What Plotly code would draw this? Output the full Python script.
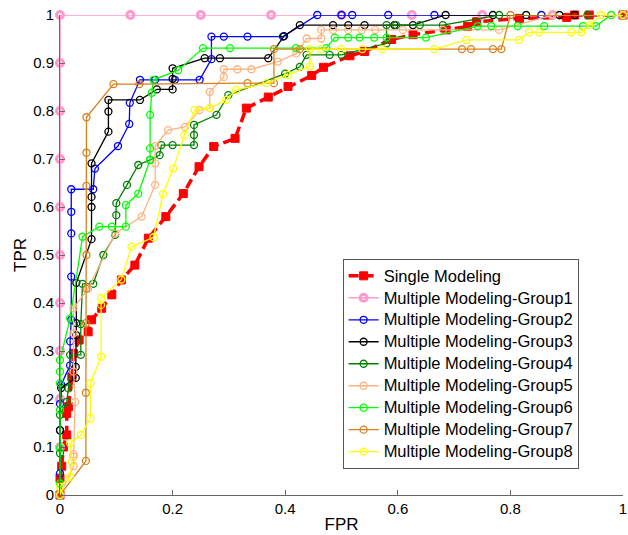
import plotly.graph_objects as go

# ---------------- data ----------------
single_fpr = [0, 0, 0.003, 0.006, 0.012, 0.012, 0.015, 0.021, 0.024, 0.034, 0.05, 0.056, 0.074, 0.092,
              0.109, 0.133, 0.157, 0.188, 0.219, 0.247, 0.273, 0.311, 0.331, 0.37, 0.405, 0.447, 0.468,
              0.515, 0.541, 0.589, 0.627, 0.686, 0.724, 0.74, 0.816, 0.9, 0.914, 0.94, 1]
single_tpr = [0, 0.035, 0.06, 0.10, 0.125, 0.17, 0.184, 0.246, 0.295, 0.323, 0.34, 0.365, 0.389, 0.417,
              0.448, 0.479, 0.535, 0.58, 0.628, 0.684, 0.726, 0.743, 0.806, 0.829, 0.851, 0.874, 0.891,
              0.915, 0.924, 0.949, 0.959, 0.969, 0.976, 0.986, 0.993, 0.995, 1, 1, 1]

g1_fpr = [0, 0, 0, 0, 0, 0, 0, 0, 0, 0, 0, 0.125, 0.25, 0.375, 0.5, 0.625, 0.75, 0.875, 1]
g1_tpr = [0, 0.1, 0.2, 0.3, 0.4, 0.5, 0.6, 0.7, 0.8, 0.9, 1, 1, 1, 1, 1, 1, 1, 1, 1]

g2_fpr = [0, 0, 0, 0, 0.002, 0.018, 0.018, 0.02, 0.02, 0.02, 0.02, 0.02, 0.059, 0.062, 0.103, 0.123,
          0.124, 0.142, 0.169, 0.204, 0.248, 0.269, 0.269, 0.291, 0.333, 0.396, 0.457, 0.5, 0.519,
          0.583, 0.665, 0.855, 1]
g2_tpr = [0, 0.045, 0.135, 0.19, 0.23, 0.27, 0.32, 0.365, 0.455, 0.545, 0.59, 0.637, 0.637, 0.68, 0.727,
          0.773, 0.817, 0.865, 0.865, 0.865, 0.865, 0.908, 0.955, 0.955, 0.955, 0.955, 1, 1, 1, 1, 1, 1, 1]

g3_fpr = [0, 0, 0.002, 0.028, 0.028, 0.029, 0.029, 0.029, 0.056, 0.056, 0.056, 0.056, 0.086, 0.086,
          0.086, 0.142, 0.172, 0.2, 0.2, 0.2, 0.257, 0.284, 0.37, 0.398, 0.426, 0.485, 0.512, 0.541,
          0.594, 0.627, 0.685, 0.769, 0.828, 0.887, 0.914, 1]
g3_tpr = [0, 0.135, 0.223, 0.244, 0.267, 0.333, 0.358, 0.442, 0.533, 0.6, 0.621, 0.691, 0.757, 0.799,
          0.823, 0.823, 0.845, 0.845, 0.867, 0.889, 0.91, 0.91, 0.91, 0.956, 0.979, 0.979, 0.979, 0.979,
          0.979, 0.979, 1, 1, 1, 1, 1, 1]

g4_fpr = [0, 0, 0, 0.012, 0.015, 0.018, 0.037, 0.037, 0.04, 0.059, 0.077, 0.098, 0.1, 0.1, 0.119,
          0.139, 0.16, 0.177, 0.18, 0.2, 0.238, 0.238, 0.238, 0.278, 0.299, 0.4, 0.426, 0.438, 0.479,
          0.5, 0.58, 0.58, 0.597, 0.639, 0.68, 0.78, 0.937, 1]
g4_tpr = [0, 0.087, 0.167, 0.194, 0.222, 0.292, 0.292, 0.356, 0.44, 0.44, 0.5, 0.542, 0.583, 0.608,
          0.646, 0.6875, 0.698, 0.708, 0.729, 0.729, 0.729, 0.75, 0.771, 0.792, 0.833, 0.878, 0.892,
          0.917, 0.917, 0.917, 0.941, 0.979, 0.979, 0.979, 0.979, 1, 1, 1]

g5_fpr = [0, 0.024, 0.024, 0.024, 0.027, 0.024, 0.024, 0.024, 0.05, 0.098, 0.145, 0.169, 0.169, 0.169,
          0.192, 0.222, 0.248, 0.266, 0.266, 0.291, 0.291, 0.315, 0.34, 0.387, 0.42, 0.438, 0.464, 0.464,
          0.485, 0.512, 0.536, 0.56, 0.609, 0.68, 0.78, 0.875, 1]
g5_tpr = [0, 0.06, 0.08, 0.085, 0.194, 0.257, 0.337, 0.389, 0.43, 0.545, 0.58, 0.646, 0.691, 0.727,
          0.76, 0.767, 0.802, 0.806, 0.84, 0.871, 0.887, 0.887, 0.887, 0.903, 0.92, 0.951, 0.951, 0.969,
          0.969, 0.969, 0.969, 0.969, 0.969, 0.969, 0.969, 1, 1]

g6_fpr = [0, 0, 0, 0, 0, 0, 0, 0.018, 0.04, 0.07, 0.092, 0.117, 0.117, 0.139, 0.16, 0.16, 0.16, 0.163,
          0.166, 0.21, 0.254, 0.302, 0.419, 0.473, 0.488, 0.512, 0.532, 0.558, 0.58, 0.65, 0.742, 0.766,
          0.813, 0.86, 0.929, 0.952, 0.979, 1]
g6_tpr = [0, 0.024, 0.097, 0.177, 0.233, 0.257, 0.281, 0.368, 0.538, 0.559, 0.559, 0.559, 0.604, 0.628,
          0.698, 0.722, 0.792, 0.838, 0.865, 0.885, 0.931, 0.931, 0.931, 0.931, 0.953, 0.953, 0.953,
          0.953, 0.953, 0.953, 0.977, 0.977, 0.977, 0.977, 0.977, 0.977, 1, 1]

g7_fpr = [0, 0.046, 0.046, 0.046, 0.047, 0.047, 0.047, 0.047, 0.047, 0.095, 0.141, 0.333, 0.38, 0.38,
          0.426, 0.714, 0.73, 0.769, 0.784, 0.8, 1]
g7_tpr = [0, 0.071, 0.213, 0.358, 0.43, 0.5, 0.644, 0.713, 0.787, 0.856, 0.856, 0.858, 0.858, 0.929,
          0.929, 0.929, 0.929, 0.929, 0.929, 1, 1]

g8_fpr = [0, 0, 0.018, 0.021, 0.018, 0.037, 0.054, 0.054, 0.073, 0.073, 0.073, 0.109, 0.127, 0.166,
          0.183, 0.201, 0.221, 0.239, 0.266, 0.295, 0.313, 0.367, 0.405, 0.444, 0.444, 0.463, 0.499,
          0.537, 0.573, 0.665, 0.722, 0.815, 0.833, 0.851, 0.908, 0.926, 0.94, 0.961, 1]
g8_tpr = [0, 0.017, 0.038, 0.069, 0.108, 0.125, 0.16, 0.233, 0.288, 0.396, 0.41, 0.449, 0.517, 0.537,
          0.627, 0.68, 0.75, 0.802, 0.806, 0.823, 0.844, 0.858, 0.875, 0.893, 0.929, 0.929, 0.929, 0.929,
          0.929, 0.929, 0.948, 0.948, 0.964, 0.964, 0.964, 0.964, 0.979, 1, 1]

series_names = ["Single Modeling"] + [f"Multiple Modeling-Group{i}" for i in range(1, 9)]
series_colors = ["#FF0000", "#FF99CC", "#0000FF", "#000000", "#008000",
                 "#FFB380", "#00FF00", "#D9801A", "#FFFF00"]
x_ticks = [0, 0.2, 0.4, 0.6, 0.8, 1]
x_tick_labels = ["0", "0.2", "0.4", "0.6", "0.8", "1"]
y_ticks = [0, 0.1, 0.2, 0.3, 0.4, 0.5, 0.6, 0.7, 0.8, 0.9, 1]
y_tick_labels = ["0", "0.1", "0.2", "0.3", "0.4", "0.5", "0.6", "0.7", "0.8", "0.9", "1"]

xs = [single_fpr, g1_fpr, g2_fpr, g3_fpr, g4_fpr, g5_fpr, g6_fpr, g7_fpr, g8_fpr]
ys = [single_tpr, g1_tpr, g2_tpr, g3_tpr, g4_tpr, g5_tpr, g6_tpr, g7_tpr, g8_tpr]

FONT = "Liberation Sans, Arial, Helvetica, sans-serif"

fig = go.Figure()
for i, (name, col, x, y) in enumerate(zip(series_names, series_colors, xs, ys)):
    if i == 0:
        line = dict(color=col, width=3.5, dash="10px,5px")
        marker = dict(symbol="square", size=8, color=col, line=dict(color=col, width=1))
    elif i == 1:
        line = dict(color=col, width=1.5)
        marker = dict(symbol="circle-open", size=7, color=col, line=dict(color=col, width=3))
    else:
        line = dict(color=col, width=1.3)
        marker = dict(symbol="circle-open", size=7, color=col, line=dict(color=col, width=1.3))
    fig.add_trace(go.Scatter(x=x, y=y, name=f'<span style="font-size:16.5px">{name}</span>',
                             mode="lines+markers", line=line, marker=marker, cliponaxis=False))

fig.update_layout(
    width=628, height=535,
    margin=dict(l=60, r=4.5, t=15, b=40),
    paper_bgcolor="white", plot_bgcolor="white",
    font=dict(family=FONT, size=15, color="black"),
    showlegend=True,
    legend=dict(x=0.502, y=0.492, xanchor="left", yanchor="top",
                bgcolor="white", bordercolor="#555555", borderwidth=1,
                font=dict(family=FONT, size=14.6, color="black"),
                tracegroupgap=0),
    xaxis=dict(range=[0, 1], tickvals=x_ticks, ticktext=x_tick_labels,
               showgrid=False, zeroline=False, showline=True, linecolor="#666666", linewidth=1,
               ticks="inside", ticklen=5, tickcolor="#666666", mirror=False,
               title=dict(text="FPR", font=dict(family=FONT, size=17), standoff=2),
               automargin=False),
    yaxis=dict(range=[0, 1], tickvals=y_ticks, ticktext=y_tick_labels,
               showgrid=False, zeroline=False, showline=True, linecolor="#666666", linewidth=1,
               ticks="inside", ticklen=5, tickcolor="#666666", mirror=False,
               ticklabelstandoff=2,
               title=dict(text="TPR", font=dict(family=FONT, size=17), standoff=2),
               automargin=False),
)

fig.write_html("out.html", config={"displayModeBar": False},
               post_script="document.body.style.margin='0';document.body.style.padding='0';")
